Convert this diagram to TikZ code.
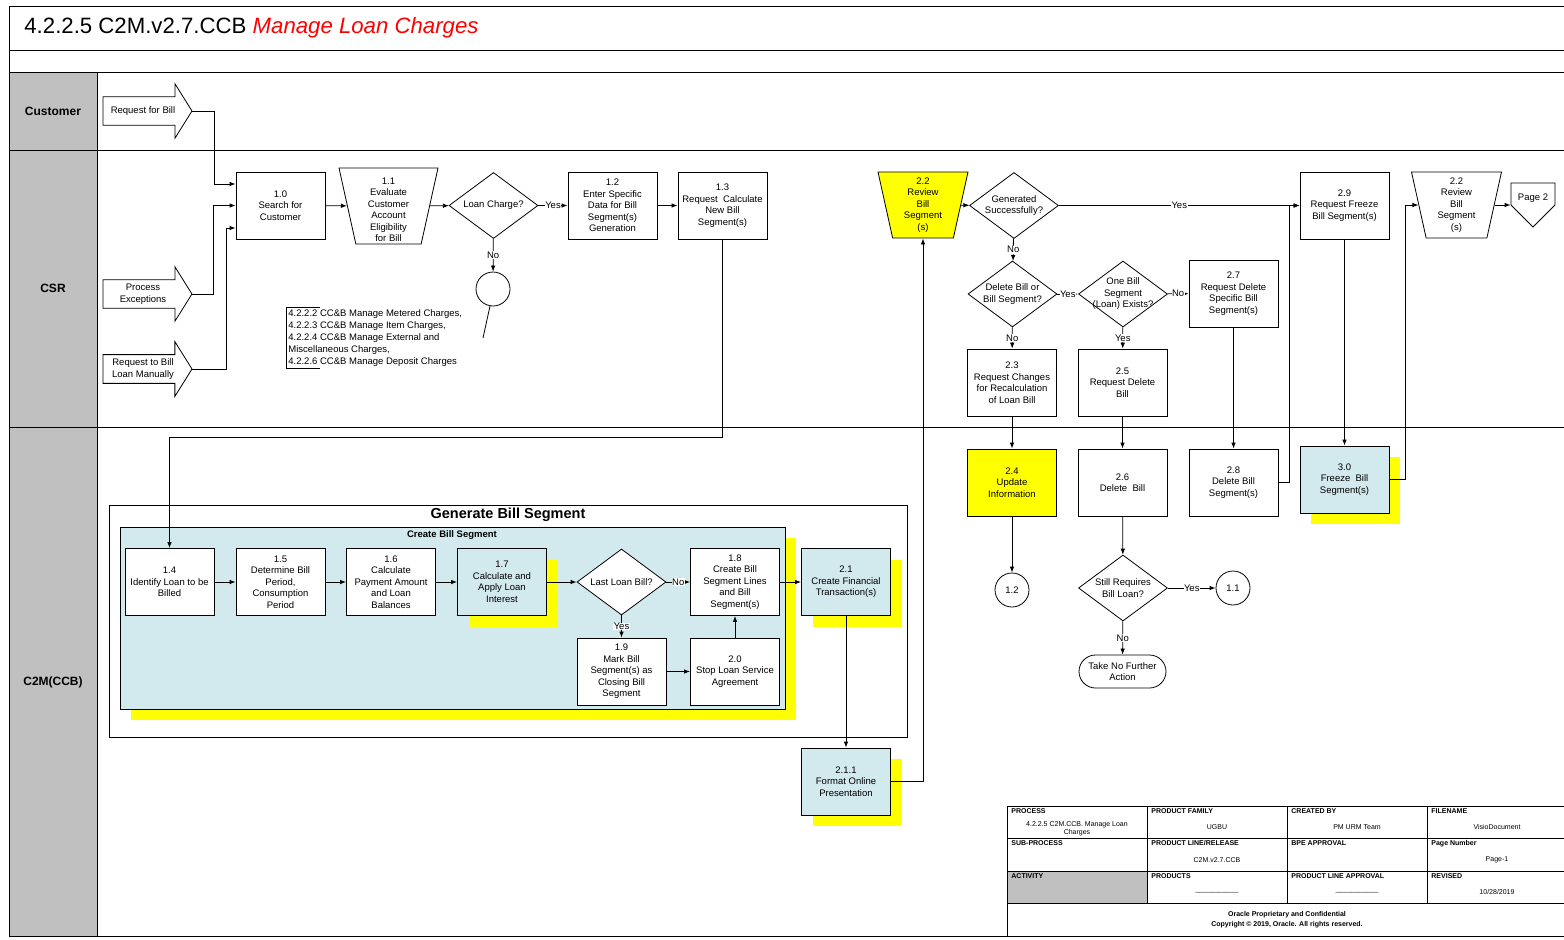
\documentclass[tikz,border=0pt]{standalone}
\usepackage{fontspec}
\setmainfont{Liberation Sans}
\usetikzlibrary{arrows, arrows.meta}
\usetikzlibrary{calc}
\usetikzlibrary{shapes.geometric, shapes.arrows, shapes.symbols, shapes.misc}
\usetikzlibrary{shadows}
\definecolor{lanegray}{RGB}{192,192,192}
\definecolor{stepblue}{RGB}{210,233,238}
\definecolor{hiyellow}{RGB}{255,255,0}

\begin{document}
\begin{tikzpicture}[x=1pt, y=-1pt, >={Latex[length=6pt,width=4.5pt]}, line width=0.8pt,
    every node/.style={font=\fontsize{9.5}{11.5}\selectfont, align=center},
    stepbox/.style={rectangle, draw, fill=white, minimum width=89pt, minimum height=67pt, inner sep=1pt}]
    \tikzset{bluebox/.style={stepbox, fill=stepblue, drop shadow={shadow xshift=11pt, shadow yshift=-11pt, fill=hiyellow, opacity=1}}}
    \tikzset{yellowbox/.style={stepbox, fill=hiyellow}}
    \tikzset{decision/.style={diamond, draw, fill=white, minimum width=89pt, minimum height=66pt, inner sep=0pt}}
    \tikzset{manual/.style={trapezium, draw, fill=white, shape border rotate=180, trapezium left angle=77.5, trapezium right angle=77.5, trapezium stretches body=true, text height=66pt, text depth=0pt, minimum width=90pt, inner sep=0pt}}
    \tikzset{inarrow/.style={single arrow, draw, fill=white, single arrow head extend=13pt, single arrow tip angle=116, minimum height=89pt, inner xsep=3pt, inner ysep=#1}}
    \tikzset{conn/.style={circle, draw, fill=white, minimum size=34pt, inner sep=0pt}}
    \tikzset{terminal/.style={rounded rectangle, draw, fill=white, minimum width=89pt, minimum height=33pt, inner sep=1pt}}
    \tikzset{offpage/.style={signal, draw, fill=white, signal to=south, signal pointer angle=90, minimum width=44pt, minimum height=22pt, inner sep=0pt}}
    \tikzset{yn/.style={fill=white, inner sep=0.5pt}}
    \tikzset{lanelbl/.style={font=\bfseries\fontsize{12}{14}\selectfont}}
    \tikzset{tblhead/.style={anchor=north west, inner sep=0pt, font=\bfseries\fontsize{7}{8}\selectfont}}
    \tikzset{tblval/.style={inner sep=0pt, font=\fontsize{7}{8}\selectfont}}

    \useasboundingbox (0,0) rectangle (1564,940);

    % frame and swim lanes
    \draw[line width=1pt] (9,6) rectangle (1600,936);
    \draw (9,50) -- (1600,50);
    \draw (9,72) -- (1600,72);
    \draw[fill=lanegray] (9,72) rectangle (97,936);
    \draw (9,150) -- (1600,150);
    \draw (9,427) -- (1600,427);
    \node[anchor=west, inner sep=0pt, font=\fontsize{22.2}{24}\selectfont] (title) at (24,28) {4.2.2.5 C2M.v2.7.CCB \textcolor{red}{\itshape Manage Loan Charges}};
    \node[lanelbl] (lcus) at (53,111) {Customer};
    \node[lanelbl] (lcsr) at (53,288) {CSR};
    \node[lanelbl] (lc2m) at (53,682) {C2M(CCB)};

    % customer and CSR lanes
    \node[inarrow=9.5pt] (rfb) at (143,111) {Request for Bill};
    \node[inarrow=3.8pt] (pex) at (143,294) {Process\\Exceptions};
    \node[inarrow=3.8pt] (rbl) at (143,369) {Request to Bill\\Loan Manually};

    \node[stepbox] (b10) at (280.5,205.5) {1.0\\Search for\\Customer};
    \node[manual, minimum width=99pt, text height=76pt, label={[yshift=-4pt]center:1.1\\Evaluate\\Customer\\Account\\Eligibility\\for Bill}] (t11) at (388.5,206) {};
    \node[decision, label={center:Loan Charge?}] (dq1) at (493.5,205.5) {};
    \node[stepbox] (b12) at (612.5,205.5) {1.2\\Enter Specific\\Data for Bill\\Segment(s)\\Generation};
    \node[stepbox] (b13) at (722.5,205.5) {1.3\\Request~ Calculate\\New Bill\\Segment(s)};
    \node[conn] (c1) at (493,289) {};
    \node[anchor=north west, align=left, inner sep=2pt, font=\fontsize{9.5}{12}\selectfont] (notes) at (286,307) {4.2.2.2 CC\&B Manage Metered Charges,\\4.2.2.3 CC\&B Manage Item Charges,\\4.2.2.4 CC\&B Manage External and\\Miscellaneous Charges,\\4.2.2.6 CC\&B Manage Deposit Charges};
    \coordinate (annoend) at (483,338);

    \node[manual, fill=hiyellow, label={center:2.2\\Review\\Bill\\Segment\\(s)}] (t22a) at (923,205) {};
    \node[decision, label={center:Generated\\Successfully?}] (dq2) at (1014,205.5) {};
    \node[decision, label={center:Delete Bill or\\Bill Segment?}] (dq3) at (1012.5,294) {};
    \node[decision, label={center:One Bill\\Segment\\(Loan) Exists?}] (dq4) at (1123,294) {};
    \node[stepbox] (b27) at (1233.5,293.5) {2.7\\Request Delete\\Specific Bill\\Segment(s)};
    \node[stepbox] (b23) at (1012,382.5) {2.3\\Request Changes\\for Recalculation\\of Loan Bill};
    \node[stepbox] (b25) at (1122.5,382.5) {2.5\\Request Delete\\Bill};
    \node[stepbox] (b29) at (1344.5,205.5) {2.9\\Request Freeze\\Bill Segment(s)};
    \node[manual, label={center:2.2\\Review\\Bill\\Segment\\(s)}] (t22b) at (1456.5,205) {};
    \node[offpage, label={[yshift=-4pt]center:Page 2}] (pg2) at (1533,194) {};

    % C2M lane
    \node[draw, minimum width=798pt, minimum height=232pt, inner sep=0pt] (gbs) at (508,621) {};
    \node[font=\bfseries\fontsize{14.5}{16}\selectfont, inner sep=0pt] (gbstitle) at (508,515) {Generate Bill Segment};
    \node[draw, fill=stepblue, minimum width=665pt, minimum height=182pt, inner sep=0pt, drop shadow={shadow xshift=11pt, shadow yshift=-11pt, fill=hiyellow, opacity=1}] (cbs) at (452.5,618) {};
    \node[font=\bfseries\fontsize{9.5}{11}\selectfont, inner sep=0pt] (cbstitle) at (452,535) {Create Bill Segment};

    \node[stepbox] (b14) at (169.5,582) {1.4\\Identify Loan to be\\Billed};
    \node[stepbox] (b15) at (280.5,582) {1.5\\Determine Bill\\Period,\\Consumption\\Period};
    \node[stepbox] (b16) at (391,582) {1.6\\Calculate\\Payment Amount\\and Loan\\Balances};
    \node[bluebox] (b17) at (502,582) {1.7\\Calculate and\\Apply Loan\\Interest};
    \node[decision, label={center:Last Loan Bill?}] (dq5) at (621.5,582) {};
    \node[stepbox] (b18) at (735,582) {1.8\\Create Bill\\Segment Lines\\and Bill\\Segment(s)};
    \node[stepbox] (b19) at (621.5,671.5) {1.9\\Mark Bill\\Segment(s) as\\Closing Bill\\Segment};
    \node[stepbox] (b20) at (735,671.5) {2.0\\Stop Loan Service\\Agreement};
    \node[bluebox] (b21) at (846,582) {2.1\\Create Financial\\Transaction(s)};
    \node[bluebox] (b211) at (846,781.5) {2.1.1\\Format Online\\Presentation};

    \node[yellowbox] (b24) at (1012,482.5) {2.4\\Update\\Information};
    \node[stepbox] (b26) at (1122.5,482.5) {2.6\\Delete~ Bill};
    \node[stepbox] (b28) at (1233.5,482.5) {2.8\\Delete Bill\\Segment(s)};
    \node[bluebox] (b30) at (1344.5,479.5) {3.0\\Freeze~ Bill\\Segment(s)};
    \node[conn] (c12) at (1012,590) {1.2};
    \node[decision, label={center:Still Requires\\Bill Loan?}] (dq6) at (1123,588) {};
    \node[conn] (c11) at (1233,588) {1.1};
    \node[terminal] (tnf) at (1122.5,671.5) {Take No Further\\Action};

    % connectors
    \draw[->] (rfb.tip) -- ++(22,0) |- ($(b10.west)+(0,-21.5)$);
    \draw[->] (pex.tip) -- ++(21,0) |- (b10.west);
    \draw[->] (rbl.tip) -- ++(34,0) |- ($(b10.west)+(0,22.5)$);
    \draw[->] (b10) -- (t11);
    \draw[->] (t11) -- (dq1);
    \draw[->] (dq1) -- node[yn]{Yes} (b12);
    \draw[->] (b12) -- (b13);
    \draw[->] (dq1) -- node[yn]{No} (c1);
    \draw (c1.260) -- (annoend);
    \draw (notes.north west) ++(34,0) -- (notes.north west) -- (notes.south west) -- ++(34,0);
    \draw[->] (b13.south) -- ++(0,198) -| (b14.north);

    \draw[->] (t22a) -- (dq2);
    \draw[->] (dq2) -- node[yn]{Yes} (b29);
    \draw[->] (dq2) -- node[yn]{No} (dq3);
    \draw[->] (dq3) -- node[yn]{Yes} (dq4);
    \draw[->] (dq4) -- node[yn]{No} (b27);
    \draw[->] (dq3) -- node[yn]{No} (b23);
    \draw[->] (dq4) -- node[yn]{Yes} (b25);
    \draw[->] (b23) -- (b24);
    \draw[->] (b25) -- (b26);
    \draw[->] (b27) -- (b28);
    \draw[->] (b24) -- (c12);
    \draw[->] (b26) -- (dq6);
    \draw[->] (dq6) -- node[yn]{Yes} (c11);
    \draw[->] (dq6) -- node[yn]{No} (tnf);
    \draw[->] (b28.east) -- ++(11,0) |- (b29.west);
    \draw[->] (b29) -- (b30);
    \draw[->] (b30.east) -- ++(16,0) |- (t22b.west);
    \draw[->] (t22b.east) -- (t22b.east -| pg2.west);

    \draw[->] (b14) -- (b15);
    \draw[->] (b15) -- (b16);
    \draw[->] (b16) -- (b17);
    \draw[->] (b17) -- (dq5);
    \draw[->] (dq5) -- node[yn]{No} (b18);
    \draw[->] (dq5) -- node[yn]{Yes} (b19);
    \draw[->] (b19) -- (b20);
    \draw[->] (b20) -- (b18);
    \draw[->] (b18) -- (b21);
    \draw[->] (b21) -- (b211);
    \draw[->] (b211.east) -| (t22a.south);

    % title block
    \fill[lanegray] (1007,871) rectangle (1147,903.5);
    \draw[line width=0.6pt] (1007,806) rectangle (1600,936);
    \foreach \y in {838.5,871,903.5} \draw[line width=0.6pt] (1007,\y) -- (1600,\y);
    \foreach \x in {1147,1287,1427} \draw[line width=0.6pt] (\x,806) -- (\x,903.5);
    \foreach \x/\y/\t [count=\i] in {1011/808/PROCESS, 1151/808/{PRODUCT FAMILY}, 1291/808/{CREATED BY}, 1431/808/FILENAME,
        1011/840.5/SUB-PROCESS, 1151/840.5/{PRODUCT LINE/RELEASE}, 1291/840.5/{BPE APPROVAL}, 1431/840.5/{Page Number},
        1011/873/ACTIVITY, 1151/873/PRODUCTS, 1291/873/{PRODUCT LINE APPROVAL}, 1431/873/REVISED}
        \node[tblhead] (th\i) at (\x,\y) {\t};
    \node[tblval] (tv1) at (1077,829) {4.2.2.5 C2M.CCB. Manage Loan\\Charges};
    \foreach \x/\y/\t [count=\i from 2] in {1217/827/UGBU, 1357/827/{PM URM Team}, 1497/827/VisioDocument,
        1217/860/C2M.v2.7.CCB, 1497/860/Page-1, 1217/892/\_\_\_\_\_\_\_\_\_\_\_, 1357/892/\_\_\_\_\_\_\_\_\_\_\_, 1497/892/{10/28/2019}}
        \node[tblval] (tv\i) at (\x,\y) {\t};
    \node[tblval, font=\bfseries\fontsize{7}{10}\selectfont] (tfoot) at (1287,920) {Oracle Proprietary and Confidential\\Copyright \textcopyright{} 2019, Oracle. All rights reserved.};
\end{tikzpicture}
\end{document}
